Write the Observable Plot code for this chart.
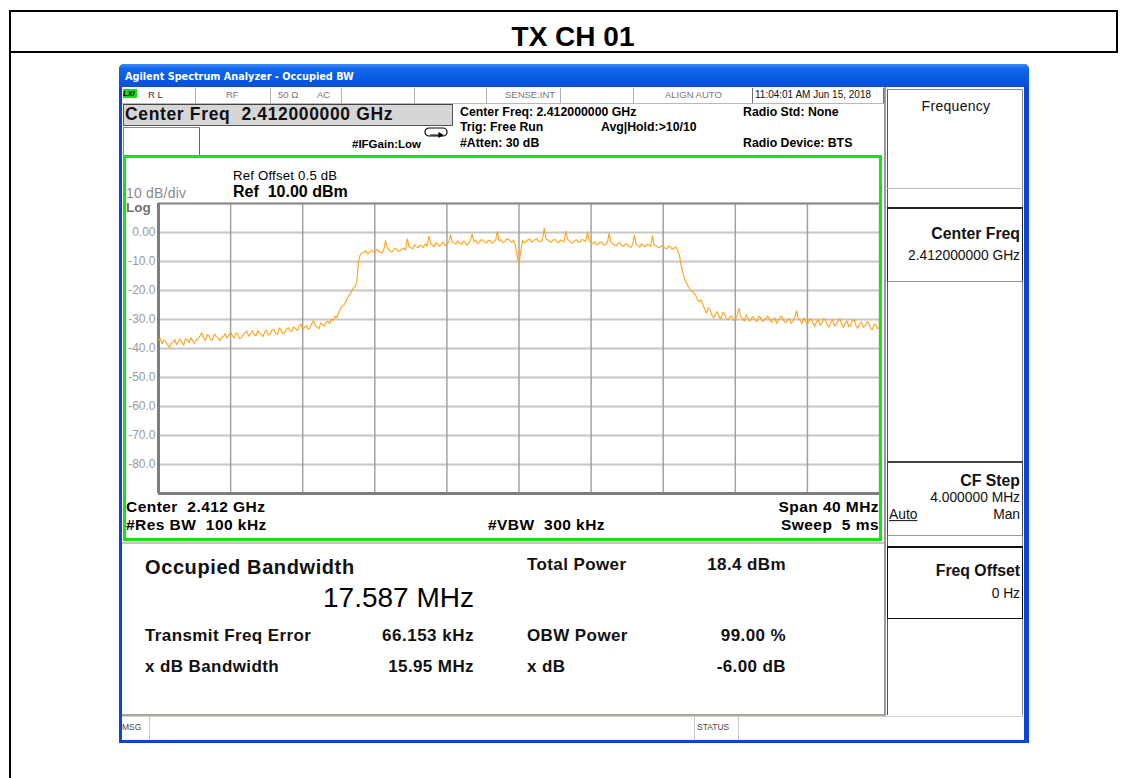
<!DOCTYPE html>
<html>
<head>
<meta charset="utf-8">
<script src="https://cdn.jsdelivr.net/npm/d3@7"></script>
<script src="https://cdn.jsdelivr.net/npm/@observablehq/plot@0.6"></script>
<style>
  html, body { margin: 0; padding: 0; background: #fff; }
  body { width: 1126px; height: 778px; position: relative; overflow: hidden;
         font-family: "Liberation Sans", Arial, sans-serif; color: #000; }
  .abs { position: absolute; }
  .t { position: absolute; line-height: 1; white-space: pre; transform: translateY(-50%); }
  .tr { position: absolute; line-height: 1; white-space: pre; transform: translate(-100%, -50%); }
  .tc { position: absolute; line-height: 1; white-space: pre; transform: translate(-50%, -50%); }
  .b { font-weight: bold; }
</style>
</head>
<body>
<!-- page frame -->
<div class="abs" style="left:10px;top:10px;width:1107px;height:2px;background:#000"></div>
<div class="abs" style="left:10px;top:51px;width:1107px;height:2px;background:#000"></div>
<div class="abs" style="left:9px;top:10px;width:2px;height:768px;background:#000"></div>
<div class="abs" style="left:1116px;top:10px;width:2px;height:43px;background:#000"></div>
<div class="tc b" style="left:573px;top:37px;font-size:28px;">TX CH 01</div>

<!-- analyzer window -->
<div class="abs" style="left:119px;top:64px;width:910px;height:679px;background:#0b44d6;border-radius:5px 5px 0 0;"></div>
<div class="abs" style="left:119px;top:64px;width:910px;height:23px;border-radius:5px 5px 0 0;background:linear-gradient(#3f8cf5 0%, #1467ea 20%, #0a5ae4 60%, #0a4fd8 100%);"></div>
<div class="t b" style="left:125px;top:77px;font-size:10.8px;color:#fff;font-family:'DejaVu Sans Condensed','DejaVu Sans',sans-serif;">Agilent Spectrum Analyzer - Occupied BW</div>
<div class="abs" style="left:122px;top:87px;width:902px;height:653px;background:#fff;"></div>

<!-- status row -->
<div class="abs" style="left:122px;top:87px;width:762px;height:16px;border-bottom:1px solid #b8b8b8;"></div>
<div class="abs" style="left:123px;top:89px;width:14px;height:9px;background:#1fd41f;"></div>
<div class="t b" style="left:123px;top:93.5px;font-size:7.5px;font-style:italic;">LXI</div>
<div class="t" style="left:148px;top:95px;font-size:9.5px;color:#333;">R L</div>
<div class="abs" style="left:195px;top:88px;width:1px;height:15px;background:#b0b0b0"></div>
<div class="t" style="left:226px;top:95px;font-size:9.5px;color:#777;">RF</div>
<div class="abs" style="left:270px;top:88px;width:1px;height:15px;background:#b0b0b0"></div>
<div class="t" style="left:278px;top:95px;font-size:9.5px;color:#777;">50 Ω</div>
<div class="t" style="left:317px;top:95px;font-size:9.5px;color:#777;">AC</div>
<div class="abs" style="left:341px;top:88px;width:1px;height:15px;background:#b0b0b0"></div>
<div class="abs" style="left:414px;top:88px;width:1px;height:15px;background:#b0b0b0"></div>
<div class="abs" style="left:486px;top:88px;width:1px;height:15px;background:#b0b0b0"></div>
<div class="t" style="left:505px;top:95px;font-size:9.5px;color:#777;">SENSE:INT</div>
<div class="abs" style="left:560px;top:88px;width:1px;height:15px;background:#b0b0b0"></div>
<div class="abs" style="left:633px;top:88px;width:1px;height:15px;background:#b0b0b0"></div>
<div class="t" style="left:665px;top:95px;font-size:9.5px;color:#777;">ALIGN AUTO</div>
<div class="abs" style="left:752px;top:88px;width:1px;height:15px;background:#707070"></div>
<div class="t" style="left:755px;top:95px;font-size:10px;color:#111;">11:04:01 AM Jun 15, 2018</div>
<div class="abs" style="left:883px;top:88px;width:1px;height:15px;background:#707070"></div>

<!-- center freq box -->
<div class="abs" style="left:123px;top:104px;width:328px;height:20px;background:#d6d6d6;border:1px solid #555;border-top-color:#444;"></div>
<div class="t b" style="left:125px;top:114.5px;font-size:17.5px;letter-spacing:0.65px;color:#111;">Center Freq  2.412000000 GHz</div>
<div class="abs" style="left:123px;top:127px;width:75px;height:27px;border:1px solid #888;border-right-color:#666;border-bottom-color:#666;background:#fff;"></div>
<svg class="abs" style="left:424px;top:127px;" width="25" height="12">
  <rect x="1" y="1" width="22" height="8" rx="4" fill="#fff" stroke="#000" stroke-width="1.2"/>
  <path d="M6 8 L18 8 M15 6 L18.5 8 L15 10 Z" stroke="#000" stroke-width="1.2" fill="#000"/>
</svg>
<div class="t b" style="left:352px;top:145px;font-size:11.5px;">#IFGain:Low</div>
<div class="t b" style="left:460px;top:112px;font-size:12.3px;">Center Freq: 2.412000000 GHz</div>
<div class="t b" style="left:460px;top:127px;font-size:12.3px;">Trig: Free Run</div>
<div class="t b" style="left:601px;top:127px;font-size:12.3px;">Avg|Hold:&gt;10/10</div>
<div class="t b" style="left:460px;top:142.5px;font-size:12.3px;">#Atten: 30 dB</div>
<div class="t b" style="left:743px;top:112px;font-size:12.3px;">Radio Std: None</div>
<div class="t b" style="left:743px;top:142.5px;font-size:12.3px;">Radio Device: BTS</div>

<!-- chart -->
<div id="chart" class="abs" style="left:123px;top:155px;"></div>
<div class="abs" style="left:123px;top:155px;width:759px;height:386px;border:3px solid #14e614;box-sizing:border-box;pointer-events:none;"></div>
<div class="t" style="left:233px;top:175.5px;font-size:13.2px;letter-spacing:0.2px;">Ref Offset 0.5 dB</div>
<div class="t b" style="left:233px;top:192px;font-size:16px;">Ref  10.00 dBm</div>
<div class="t" style="left:126px;top:193px;font-size:14px;letter-spacing:0.2px;color:#8a8a8a;">10 dB/div</div>
<div class="t b" style="left:126px;top:208px;font-size:13.5px;color:#707070;">Log</div>
<div class="t b" style="left:126px;top:507px;font-size:15.5px;letter-spacing:0.45px;">Center  2.412 GHz</div>
<div class="t b" style="left:126px;top:525px;font-size:15.5px;letter-spacing:0.45px;">#Res BW  100 kHz</div>
<div class="t b" style="left:488px;top:525px;font-size:15.5px;letter-spacing:0.45px;">#VBW  300 kHz</div>
<div class="tr b" style="left:879px;top:507px;font-size:15.5px;letter-spacing:0.45px;">Span 40 MHz</div>
<div class="tr b" style="left:879px;top:525px;font-size:15.5px;letter-spacing:0.45px;">Sweep  5 ms</div>

<!-- results panel -->
<div class="abs" style="left:122px;top:542px;width:762px;height:170px;border-top:2px solid #c8c4b8;border-bottom:2px solid #aca899;border-right:2px solid #aca899;"></div>
<div class="t b" style="left:145px;top:567px;font-size:20px;letter-spacing:0.6px;color:#111;">Occupied Bandwidth</div>
<div class="tr" style="left:474px;top:598px;font-size:28px;">17.587 MHz</div>
<div class="t b" style="left:145px;top:635px;font-size:17px;letter-spacing:0.4px;color:#111;">Transmit Freq Error</div>
<div class="tr b" style="left:474px;top:635px;font-size:17px;letter-spacing:0.5px;color:#111;">66.153 kHz</div>
<div class="t b" style="left:145px;top:666px;font-size:17px;letter-spacing:0.4px;color:#111;">x dB Bandwidth</div>
<div class="tr b" style="left:474px;top:666px;font-size:17px;letter-spacing:0.4px;color:#111;">15.95 MHz</div>
<div class="t b" style="left:527px;top:564px;font-size:17px;letter-spacing:0.4px;color:#111;">Total Power</div>
<div class="tr b" style="left:786px;top:564px;font-size:17px;letter-spacing:0.4px;color:#111;">18.4 dBm</div>
<div class="t b" style="left:527px;top:635px;font-size:17px;letter-spacing:0.4px;color:#111;">OBW Power</div>
<div class="tr b" style="left:786px;top:635px;font-size:17px;letter-spacing:0.4px;color:#111;">99.00 %</div>
<div class="t b" style="left:527px;top:666px;font-size:17px;letter-spacing:0.4px;color:#111;">x dB</div>
<div class="tr b" style="left:786px;top:666px;font-size:17px;letter-spacing:0.4px;color:#111;">-6.00 dB</div>

<!-- message bar -->
<div class="abs" style="left:122px;top:716px;width:902px;height:1px;background:#d0d0d0"></div>
<div class="t" style="left:122px;top:727px;font-size:8.5px;color:#444;">MSG</div>
<div class="abs" style="left:149px;top:716px;width:1px;height:24px;background:#c8c8c8"></div>
<div class="abs" style="left:694px;top:716px;width:1px;height:24px;background:#c8c8c8"></div>
<div class="t" style="left:697px;top:727px;font-size:8.5px;color:#444;">STATUS</div>
<div class="abs" style="left:738px;top:716px;width:1px;height:24px;background:#c8c8c8"></div>

<!-- softkey column -->
<div class="abs" style="left:884px;top:87px;width:2px;height:628px;background:#9a9a9a"></div>
<div class="abs" style="left:887px;top:89px;width:1px;height:626px;background:#555"></div>
<div class="abs" style="left:1022px;top:89px;width:1px;height:626px;background:#888"></div>
<div class="abs" style="left:887px;top:89px;width:136px;height:1px;background:#888"></div>
<div class="abs" style="left:887px;top:188px;width:136px;height:1px;background:#bbb"></div>
<div class="tc" style="left:956px;top:106px;font-size:14px;letter-spacing:0.3px;color:#111;">Frequency</div>
<div class="abs" style="left:887px;top:207px;width:134px;height:72px;border:1px solid #222;border-top-width:2px;border-bottom-color:#999;"></div>
<div class="tr b" style="left:1020px;top:234px;font-size:15.8px;color:#111;">Center Freq</div>
<div class="tr" style="left:1020px;top:256px;font-size:13.8px;color:#111;">2.412000000 GHz</div>
<div class="abs" style="left:887px;top:461px;width:134px;height:72px;border:1px solid #444;border-top-width:2px;border-bottom-color:#999;"></div>
<div class="tr b" style="left:1020px;top:481px;font-size:15.8px;color:#111;">CF Step</div>
<div class="tr" style="left:1020px;top:498px;font-size:13.8px;color:#111;">4.000000 MHz</div>
<div class="t" style="left:889px;top:515px;font-size:13.8px;color:#111;text-decoration:underline;">Auto</div>
<div class="tr" style="left:1020px;top:515px;font-size:13.8px;color:#111;">Man</div>
<div class="abs" style="left:887px;top:546px;width:134px;height:70px;border:1px solid #111;border-top-width:2px;"></div>
<div class="tr b" style="left:1020px;top:571px;font-size:15.8px;color:#111;">Freq Offset</div>
<div class="tr" style="left:1020px;top:594px;font-size:13.8px;color:#111;">0 Hz</div>

<script>
// Sweep: center 2.412 GHz, span 40 MHz; levels in dBm (0.1 MHz steps, 401 points)
const startGHz = 2.392;
const stopGHz = 2.432;
const levels = [
  -37.2, -36.5, -38.4, -37.1, -37.6, -38.8, -39.6, -38.2, -37.9, -36.9, -38.7, -37.4, -36.8, -37.9, -38.9, -36.6, -37.1, -38.0, -36.2, -37.5,
  -38.3, -37.0, -36.6, -35.7, -34.6, -36.3, -37.4, -35.2, -35.5, -37.2, -36.9, -35.0, -35.8, -36.4, -37.3, -36.1, -35.9, -34.8, -36.5, -35.4,
  -34.3, -35.6, -36.4, -34.6, -35.1, -36.6, -36.2, -35.3, -34.5, -34.0, -35.8, -34.9, -33.9, -35.1, -35.6, -33.8, -34.8, -35.0, -35.9, -34.1,
  -33.7, -35.3, -34.9, -33.6, -33.4, -34.6, -35.2, -32.9, -33.6, -34.8, -34.4, -33.3, -32.8, -33.9, -34.1, -32.5, -33.2, -33.8, -32.4, -31.6,
  -33.5, -32.7, -32.1, -33.4, -33.0, -31.5, -30.4, -31.9, -32.6, -33.2, -31.2, -31.8, -32.3, -30.9, -30.6, -31.4, -29.8, -30.4, -28.9, -29.3,
  -27.6, -26.2, -25.3, -24.9, -23.8, -22.4, -21.5, -20.6, -19.2, -18.7, -17.2, -9.8, -7.6, -7.0, -6.8, -6.3, -7.4, -7.0, -6.1, -6.6,
  -6.9, -5.8, -6.3, -6.8, -7.1, -5.9, -2.8, -5.6, -5.9, -6.7, -6.4, -5.5, -5.7, -6.5, -6.2, -5.8, -5.4, -6.0, -2.2, -4.9,
  -5.1, -5.7, -4.2, -4.8, -5.3, -4.3, -4.6, -5.2, -3.9, -4.7, -1.2, -3.8, -4.4, -4.9, -3.5, -4.2, -4.8, -3.7, -3.3, -4.5,
  -3.9, -3.4, -0.9, -3.1, -3.6, -4.0, -2.9, -3.7, -4.1, -3.0, -3.2, -4.3, -3.8, -2.9, -0.5, -3.2, -2.7, -3.9, -3.4, -2.5,
  -2.6, -3.3, -3.6, -2.7, -2.8, -3.7, -3.3, -2.6, 0.3, -2.9, -2.4, -3.5, -3.1, -2.3, -2.2, -2.9, -3.4, -2.6, -4.5, -8.2,
  -10.9, -6.5, -2.7, -3.6, -3.1, -2.5, -2.3, -3.4, -2.9, -2.4, -2.1, -3.2, -3.0, -2.6, 1.5, -2.2, -2.6, -3.0, -3.3, -2.5,
  -2.4, -3.2, -3.5, -2.6, -2.8, -3.3, 0.5, -2.4, -2.9, -3.6, -3.4, -2.8, -2.5, -3.4, -3.2, -2.4, -2.7, -3.1, 0.1, -3.0,
  -3.6, -3.9, -3.1, -4.2, -4.0, -3.3, -3.4, -4.4, -4.2, -3.6, -0.3, -3.4, -3.9, -4.4, -4.6, -3.7, -3.5, -4.5, -4.8, -3.9,
  -4.1, -4.7, -5.2, -4.3, -1.0, -3.9, -4.5, -5.1, -3.8, -4.6, -4.9, -4.0, -4.2, -4.8, -1.1, -4.3, -4.6, -5.0, -5.3, -4.6,
  -4.8, -5.4, -5.6, -4.7, -4.9, -5.8, -5.4, -5.0, -6.2, -7.8, -11.5, -14.1, -16.2, -17.4, -18.8, -19.9, -20.3, -20.8, -21.6, -23.2,
  -23.9, -23.1, -24.8, -26.4, -27.9, -26.0, -26.6, -28.5, -29.4, -28.1, -27.3, -29.0, -29.8, -27.6, -28.2, -29.5, -30.1, -29.2, -28.7, -30.3,
  -29.9, -28.6, -26.1, -28.9, -29.6, -30.6, -28.4, -29.3, -30.5, -29.6, -29.0, -30.1, -30.8, -28.9, -29.3, -30.7, -30.2, -29.5, -28.8, -30.0,
  -31.0, -29.9, -29.5, -31.3, -30.4, -28.9, -29.1, -30.5, -31.2, -30.1, -29.7, -31.4, -30.6, -29.2, -27.0, -29.8, -30.3, -31.5, -29.4, -30.7,
  -31.6, -30.2, -29.8, -31.0, -32.4, -30.9, -29.9, -32.1, -31.1, -29.6, -30.2, -31.8, -32.6, -31.0, -30.0, -32.3, -31.5, -30.4, -29.7, -31.6,
  -32.8, -31.2, -30.6, -32.5, -31.9, -30.3, -30.1, -32.2, -33.0, -31.4, -30.8, -32.7, -32.2, -30.9, -31.0, -33.1, -33.5, -31.7, -31.8, -33.2,
  -32.6
];
const freqGrid = [2.392, 2.396, 2.400, 2.404, 2.408, 2.412, 2.416, 2.420, 2.424, 2.428, 2.432];
const levelGrid = [10, 0, -10, -20, -30, -40, -50, -60, -70, -80, -90];
const levelTickLabels = [0, -10, -20, -30, -40, -50, -60, -70, -80];

const stepGHz = (stopGHz - startGHz) / (levels.length - 1);
const trace = levels.map((v, i) => ({freq: startGHz + i * stepGHz, level: v}));

const chart = Plot.plot({
  width: 759,
  height: 386,
  marginLeft: 35,
  marginRight: 3,
  marginTop: 48,
  marginBottom: 48,
  style: {background: "transparent", fontFamily: "'Liberation Sans', Arial, sans-serif", fontSize: "12px", color: "#9a9a9a", overflow: "visible"},
  x: {domain: [startGHz, stopGHz], axis: null},
  y: {domain: [-90, 10], axis: null},
  marks: [
    Plot.ruleY(levelGrid, {stroke: "#c6c6c6", strokeWidth: 2}),
    Plot.ruleX(freqGrid, {stroke: "#a2a2a2", strokeWidth: 1.5}),
    Plot.ruleY([10], {stroke: "#8c8c8c", strokeWidth: 2}),
    Plot.ruleY([-90], {stroke: "#7e7e7e", strokeWidth: 3}),
    Plot.ruleX([startGHz], {stroke: "#7e7e7e", strokeWidth: 3}),
    Plot.axisY(levelTickLabels, {
      anchor: "left", tickSize: 0, tickPadding: 3, label: null,
      tickFormat: d => d === 0 ? "0.00" : d.toFixed(1),
      fill: "#9a9a9a"
    }),
    Plot.line(trace, {x: "freq", y: "level", stroke: "#ffa31a", strokeWidth: 1.1})
  ]
});
document.getElementById("chart").appendChild(chart);
</script>
</body>
</html>
